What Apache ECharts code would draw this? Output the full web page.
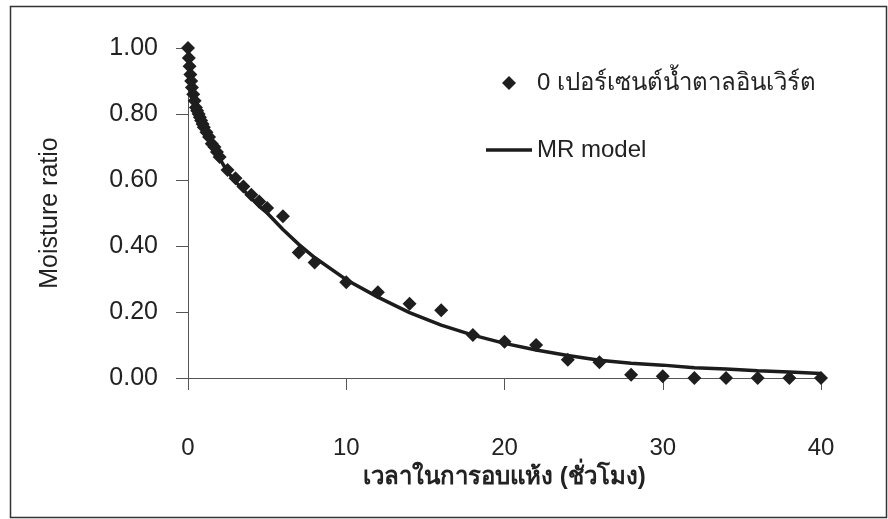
<!DOCTYPE html>
<html>
<head>
<meta charset="utf-8">
<script src="https://cdn.jsdelivr.net/npm/echarts@6/dist/echarts.min.js"></script>
<style>
html,body{margin:0;padding:0;background:#fff;}
#c{width:888px;height:519px;}
</style>
</head>
<body>
<div id="c"></div>
<script>
// Drying time (hours) of observations
var timeObs = [0, 0.05, 0.1, 0.15, 0.2, 0.25, 0.33, 0.42, 0.5, 0.58, 0.67, 0.75, 0.83, 0.92, 1.0,
  1.17, 1.33, 1.5, 1.67, 1.83, 2.0, 2.5, 3.0, 3.5, 4.0, 4.5, 5.0, 6, 7, 8, 10, 12, 14, 16, 18,
  20, 22, 24, 26, 28, 30, 32, 34, 36, 38, 40];
var mrObs = [1.00, 0.97, 0.945, 0.92, 0.90, 0.88, 0.86, 0.84, 0.82, 0.81, 0.80, 0.79, 0.78, 0.77, 0.76,
  0.745, 0.73, 0.71, 0.70, 0.685, 0.67, 0.63, 0.605, 0.58, 0.555, 0.535, 0.515, 0.49, 0.38, 0.35, 0.29, 0.26, 0.225, 0.205, 0.13,
  0.11, 0.10, 0.055, 0.048, 0.01, 0.005, 0.0, 0.0, 0.0, 0.0, 0.0];
// Model curve values at the same times
var timeModel = [0, 0.083, 0.167, 0.25, 0.33, 0.42, 0.5, 0.58, 0.67, 0.75, 0.83, 0.92, 1.0,
  1.17, 1.33, 1.5, 1.67, 1.83, 2.0, 2.5, 3.0, 3.5, 4.0, 4.5, 5.0, 6, 7, 8, 10, 12, 14, 16, 18,
  20, 22, 24, 26, 28, 30, 32, 34, 36, 38, 40];
var mrModel = [1.00, 0.96, 0.93, 0.905, 0.88, 0.86, 0.845, 0.83, 0.815, 0.80, 0.79, 0.78, 0.77,
  0.75, 0.735, 0.715, 0.70, 0.685, 0.665, 0.625, 0.595, 0.57, 0.545, 0.52, 0.50, 0.45, 0.405, 0.365, 0.298, 0.245, 0.198, 0.16, 0.13,
  0.105, 0.085, 0.068, 0.054, 0.045, 0.039, 0.031, 0.027, 0.022, 0.018, 0.014];
var xTicks = [0, 10, 20, 30, 40];
var yTicks = [0, 0.2, 0.4, 0.6, 0.8, 1.0];
var seriesNames = ['0 เปอร์เซนต์น้ำตาลอินเวิร์ต', 'MR model'];
var xTitle = 'เวลาในการอบแห้ง (ชั่วโมง)';
var yTitle = 'Moisture ratio';

function pairs(xs, ys) { return xs.map(function (x, i) { return [x, ys[i]]; }); }

var font = '"Liberation Sans", Arial, "Noto Sans", sans-serif';
var chart = echarts.init(document.getElementById('c'), null, {renderer: 'canvas'});
chart.setOption({
  backgroundColor: '#fff',
  animation: false,
  textStyle: {fontFamily: font},
  graphic: [{
    type: 'rect', left: 8, top: 4, z: -1,
    shape: {width: 876, height: 511},
    style: {fill: 'none', stroke: '#333', lineWidth: 1.5}
  }],
  grid: {left: 188, right: 67, top: 48, bottom: 141},
  legend: {
    orient: 'vertical', left: 481, top: 66,
    itemWidth: 46, itemHeight: 14, itemGap: 43,
    symbolKeepAspect: true,
    textStyle: {fontSize: 24, color: '#222', fontFamily: font, lineHeight: 24},
    data: [
      {name: seriesNames[0], icon: 'path://M5,0 L10,5 L5,10 L0,5 Z', itemStyle: {color: '#1e1e1e', opacity: 1}},
      {name: seriesNames[1], icon: 'path://M0,0 L46,0 L46,3.5 L0,3.5 Z', itemStyle: {color: '#1c1c1c'}}
    ]
  },
  xAxis: {
    type: 'value', min: xTicks[0], max: xTicks[xTicks.length - 1], interval: 10,
    name: xTitle, nameLocation: 'middle', nameGap: 82,
    nameTextStyle: {fontSize: 24, fontWeight: 'bold', color: '#222', fontFamily: font},
    axisLine: {onZero: false, lineStyle: {color: '#555', width: 1}},
    axisTick: {show: true, length: 12, lineStyle: {color: '#555'}},
    axisLabel: {fontSize: 24, color: '#222', margin: 58},
    splitLine: {show: false}
  },
  yAxis: {
    type: 'value', min: yTicks[0], max: yTicks[yTicks.length - 1], interval: 0.2,
    name: yTitle, nameLocation: 'middle', nameGap: 125, nameRotate: 90,
    nameTextStyle: {fontSize: 25, color: '#222', fontFamily: font},
    axisLine: {show: true, lineStyle: {color: '#555', width: 1}},
    axisTick: {show: true, length: 12, lineStyle: {color: '#555'}},
    axisLabel: {fontSize: 25, color: '#222', margin: 30, formatter: function (v) { return v.toFixed(2); }},
    splitLine: {show: false}
  },
  series: [{
    name: seriesNames[0], type: 'scatter', symbol: 'diamond', symbolSize: 14,
    itemStyle: {color: '#1e1e1e', opacity: 1},
    data: pairs(timeObs, mrObs), z: 3
  }, {
    name: seriesNames[1], type: 'line', showSymbol: false, symbol: 'none',
    lineStyle: {color: '#1c1c1c', width: 3.5},
    itemStyle: {color: '#1c1c1c'},
    data: pairs(timeModel, mrModel), z: 2
  }]
});
</script>
</body>
</html>
